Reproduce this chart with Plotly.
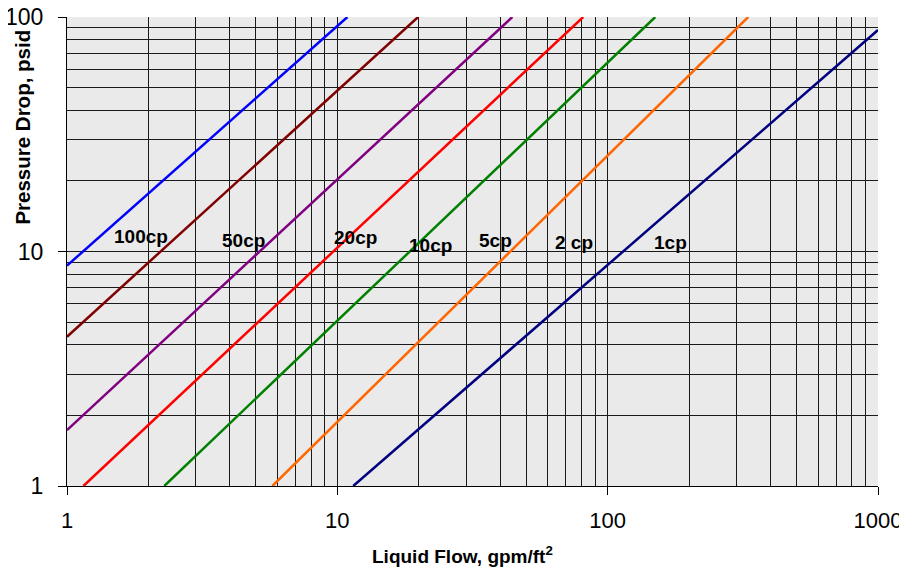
import plotly.graph_objects as go
import numpy as np

# liquid flow (gpm/ft2) and pressure drop (psid) at the two visible ends of each line
viscosity_names = ["100cp", "50cp", "20cp", "10cp", "5cp", "2 cp", "1cp"]
flow_ends = [[1, 10.9], [1, 19.9], [1, 44.4], [1.15, 81.2], [2.29, 150], [5.75, 331], [11.45, 1000]]
dp_ends = [[8.7, 100], [4.33, 100], [1.73, 100], [1, 100], [1, 100], [1, 100], [1, 88]]
line_colors = ["#0000FF", "#800000", "#800080", "#FF0000", "#008000", "#FF6600", "#000080"]

# label positions (data coords)
label_flow = [1.88, 4.5, 11.65, 22.2, 38.6, 75, 171]
label_dp = [11.6, 11.1, 11.5, 10.6, 11.1, 10.9, 10.9]

FONT = "Liberation Sans, Arial, sans-serif"

fig = go.Figure()
for name, xs, ys, c in zip(viscosity_names, flow_ends, dp_ends, line_colors):
    fig.add_trace(go.Scatter(x=xs, y=ys, mode="lines", name=name,
                             line=dict(color=c, width=2.5), showlegend=False))

for name, lx, ly in zip(viscosity_names, label_flow, label_dp):
    fig.add_annotation(x=np.log10(lx), y=np.log10(ly), xref="x", yref="y", text=f"<b>{name}</b>",
                       showarrow=False, font=dict(family=FONT, size=19, color="black"))

minor_x = [m * d for d in (1, 10, 100) for m in range(2, 10)]
minor_y = [m * d for d in (1, 10) for m in range(2, 10)]
grid_col = "#1a1a1a"

fig.update_xaxes(type="log", range=[0, 3], tickvals=[1, 10, 100, 1000], ticktext=["1", "10", "100", "1000"],
                 showgrid=True, gridcolor=grid_col, gridwidth=1,
                 minor=dict(tickvals=minor_x, showgrid=True, gridcolor=grid_col, gridwidth=1, ticks=""),
                 showline=True, linecolor="black", linewidth=1, ticks="outside", ticklen=8, tickcolor="black",
                 tickfont=dict(family=FONT, size=22, color="black"), zeroline=False, ticklabelstandoff=7,
                 ticklabeloverflow="allow", automargin=False)
fig.update_yaxes(type="log", range=[0, 2], tickvals=[1, 10, 100], ticktext=["1", "10", "100"],
                 showgrid=True, gridcolor=grid_col, gridwidth=1,
                 minor=dict(tickvals=minor_y, showgrid=True, gridcolor=grid_col, gridwidth=1, ticks=""),
                 showline=True, linecolor="black", linewidth=1, ticks="outside", ticklen=8, tickcolor="black",
                 tickfont=dict(family=FONT, size=23, color="black"), zeroline=False, ticklabelstandoff=10,
                 ticklabeloverflow="allow", automargin=False)

fig.add_annotation(x=0.488, y=-0.147, xref="paper", yref="paper", text="<b>Liquid Flow, gpm/ft<sup>2</sup></b>",
                   xanchor="center", yanchor="middle",
                   showarrow=False, font=dict(family=FONT, size=19, color="black"))
fig.add_annotation(x=-0.055, y=0.765, xref="paper", yref="paper", text="<b>Pressure Drop, psid</b>",
                   xanchor="center", yanchor="middle",
                   textangle=-90, showarrow=False, font=dict(family=FONT, size=20.5, color="black"))

# the page body adds an 8px offset, so the figure is 8px smaller than the window
fig.update_layout(width=899, height=567, plot_bgcolor="#EAEAEA", paper_bgcolor="white",
                  margin=dict(l=59, r=29, t=9, b=89, autoexpand=False))
fig.write_html("out.html")
